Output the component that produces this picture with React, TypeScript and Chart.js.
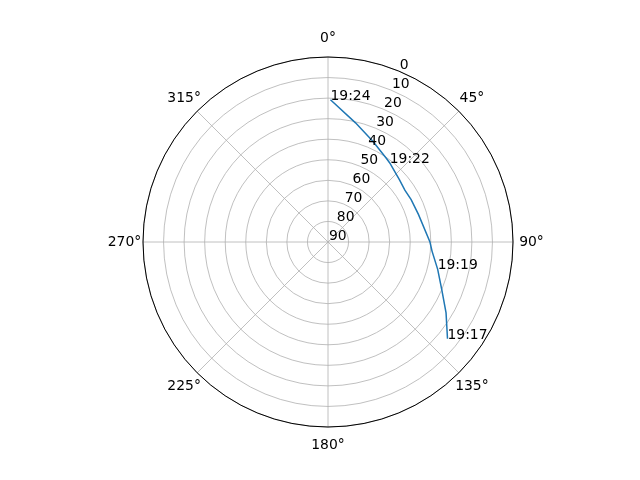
import { useRef, useEffect } from 'react'
import { Chart, registerables } from 'chart.js'

Chart.register(...registerables)

// satellite pass, in time order (19:17 -> 19:24)
const trackAz = [129, 121, 113, 104, 95, 90, 73, 63, 56, 49, 38, 35, 24, 13, 1]
const trackEl = [15.2, 23.0, 29.8, 35.0, 39.2, 40.4, 44.0, 44.6, 44.9, 43.9, 41.2, 40.4, 36.4, 30.5, 20.8]

// time stamps written next to the track
const passTimes = ['19:17', '19:19', '19:22', '19:24']
const passAz = [129, 104, 38, 1]
const passEl = [15.2, 35.0, 41.2, 20.8]

const thetaTicks = [0, 45, 90, 135, 180, 225, 270, 315]
const rTicks = [0, 10, 20, 30, 40, 50, 60, 70, 80, 90]
const R_LABEL_ANGLE = 22.5

const FONT = '13.9px "DejaVu Sans"'
const GRID = '#b0b0b0'

const azimuths = Array.from({ length: 360 }, (_, i) => i)

const polarDecor = {
  id: 'polarDecor',
  beforeDatasetDraw(chart: any, args: any) {
    // radar lines always close on themselves; this track must stay open
    const line = args.meta.dataset
    if (line && line._loop) {
      line._loop = false
      delete line._segments
      delete line._path
    }
  },
  afterDraw(chart: any) {
    const r = chart.scales.r
    const ctx = chart.ctx
    ctx.save()
    ctx.strokeStyle = '#000'
    ctx.lineWidth = 1
    ctx.beginPath()
    ctx.arc(r.xCenter, r.yCenter, r.drawingArea, 0, Math.PI * 2)
    ctx.stroke()

    ctx.font = FONT
    ctx.fillStyle = '#000'
    ctx.textAlign = 'center'
    ctx.textBaseline = 'middle'
    thetaTicks.forEach((a) => {
      const p = r.getPointPosition(a, r.drawingArea + 18.5)
      ctx.fillText(`${a}°`, p.x, p.y)
    })

    ctx.textAlign = 'left'
    ctx.textBaseline = 'alphabetic'
    rTicks.forEach((v) => {
      const p = r.getPointPositionForValue(R_LABEL_ANGLE, v)
      ctx.fillText(String(v), p.x + 1, p.y - 2)
    })

    passTimes.forEach((t, i) => {
      const p = r.getPointPositionForValue(passAz[i], passEl[i])
      ctx.fillText(t, p.x, p.y)
    })
    ctx.restore()
  },
}

export default function App() {
  const canvasRef = useRef<HTMLCanvasElement>(null)

  useEffect(() => {
    document.body.style.margin = '0'
    if (!canvasRef.current) return
    const data: (number | null)[] = azimuths.map(() => null)
    trackAz.forEach((az, i) => { data[az] = trackEl[i] })

    const chart = new Chart(canvasRef.current, {
      type: 'radar',
      data: {
        labels: azimuths,
        datasets: [{
          data,
          borderColor: '#1f77b4',
          borderWidth: 1.5,
          pointRadius: 0,
          pointHoverRadius: 0,
          fill: false,
          tension: 0,
          spanGaps: true,
        }],
      },
      options: {
        responsive: false,
        animation: false,
        layout: { padding: { top: 57, bottom: 53, left: 143, right: 127 } },
        plugins: { legend: { display: false }, tooltip: { enabled: false } },
        scales: {
          r: {
            min: 0,
            max: 90,
            reverse: true,
            ticks: { display: false, stepSize: 10 },
            grid: { circular: true, color: GRID, lineWidth: 0.8 },
            angleLines: {
              color: GRID,
              lineWidth: (c: any) => (c.index % 45 === 0 ? 0.8 : 0),
            },
            pointLabels: { display: false },
          },
        },
      },
      plugins: [polarDecor],
    })
    return () => chart.destroy()
  }, [])

  return <canvas ref={canvasRef} width={640} height={480} />
}
